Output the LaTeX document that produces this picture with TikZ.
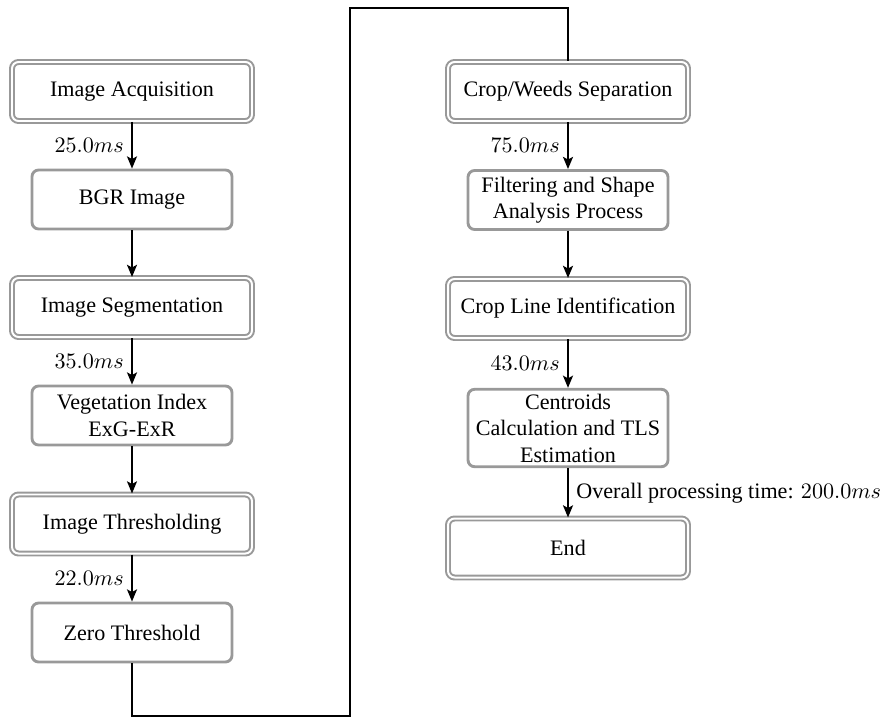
\documentclass[tikz,border=0pt]{standalone}
\usepackage[no-math]{fontspec}
\setmainfont{Liberation Serif}
\usepackage{amsmath}
\usepackage{tikz}
\usetikzlibrary{arrows.meta}

\begin{document}
\begin{tikzpicture}[x=0.4525pt,y=-0.4525pt,
  stage/.style={draw=black!40,line width=1.3pt,rounded corners=3pt,fill=white,
    align=center,minimum width=90.5pt,minimum height=26.7pt,inner sep=2pt},
  keystage/.style={stage,line width=0.9pt,double,double distance=0.9pt,
    minimum width=108.6pt},
  flow/.style={line width=0.9pt,-{Stealth[length=5.5pt,width=4.5pt,inset=1.2pt]}},
  link/.style={line width=0.9pt}]
  \useasboundingbox (0,0) rectangle (892,717);

  % first column
  \node[keystage] (acq)  at (132,91.5)  {Image Acquisition};
  \node[stage]    (bgr)  at (132,199.5) {BGR Image};
  \node[keystage] (seg)  at (132,307.5) {Image Segmentation};
  \node[stage]    (veg)  at (132,415.5) {Vegetation Index\\ExG-ExR};
  \node[keystage] (thr)  at (132,524)   {Image Thresholding};
  \node[stage]    (zero) at (132,632.5) {Zero Threshold};

  % second column
  \node[keystage] (sep)  at (568,91.5)  {Crop/Weeds Separation};
  \node[stage]    (filt) at (568,200)   {Filtering and Shape\\Analysis Process};
  \node[keystage] (crop) at (568,308.5) {Crop Line Identification};
  \node[stage]    (cent) at (568,428)   {Centroids\\Calculation and TLS\\Estimation};
  \node[keystage] (fin)  at (568,548)   {End};

  \draw[flow] (acq) -- node[left] {$25.0ms$} (bgr);
  \draw[flow] (bgr) -- (seg);
  \draw[flow] (seg) -- node[left] {$35.0ms$} (veg);
  \draw[flow] (veg) -- (thr);
  \draw[flow] (thr) -- node[left] {$22.0ms$} (zero);

  % wrap round to the top of the second column
  \coordinate (lowturn)  at (350,715.5);
  \coordinate (highturn) at (350,8);
  \draw[link] (zero) |- (lowturn) -- (highturn) -| (sep);

  \draw[flow] (sep) -- node[left] {$75.0ms$} (filt);
  \draw[flow] (filt) -- (crop);
  \draw[flow] (crop) -- node[left] {$43.0ms$} (cent);
  \draw[flow] (cent) -- node[right] {Overall processing time: $200.0ms$} (fin);
\end{tikzpicture}
\end{document}
